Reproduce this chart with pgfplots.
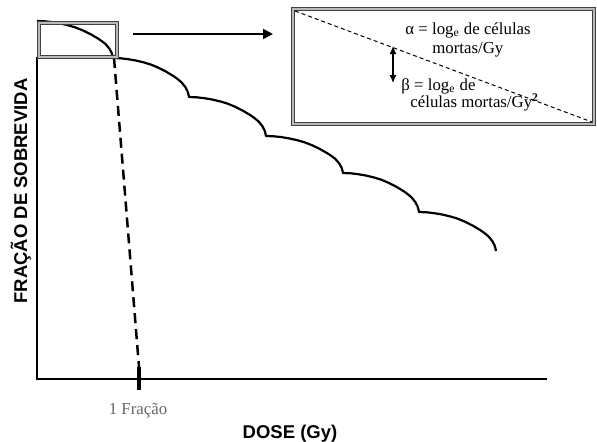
\documentclass[border=0pt]{standalone}
\usepackage{fontspec}
\setmainfont{Liberation Serif}
\setsansfont{Liberation Sans}
\usepackage{pgfplots}
\pgfplotsset{compat=1.18}
\usetikzlibrary{arrows.meta}
\begin{document}
\begin{tikzpicture}
\begin{axis}[scale only axis, width=298.5pt, height=220.5pt,
  xmin=0, xmax=597, ymin=0, ymax=441, y dir=reverse,
  axis lines=none, clip=false, xtick=\empty, ytick=\empty]
\path (0,0) rectangle (597,441);
% axes
\draw[line width=1pt] (37,57) -- (37,379) -- (547,379);
% survival curve (fractionated)
\addplot[black, line width=1.1pt, line join=round, mark=none] coordinates {
(37,21) (44.6,21.3) (52.2,22.1) (59.8,23.4) (67.4,25.1) (75,27.3) (82.6,30.3) (90.2,34.0) (97.8,38.4) (101.6,41.0) (105.4,43.9) (109.2,48.4) (111.5,52.5) (112.2,54.7) (113,58)
(120.6,58.3) (128.2,59.2) (135.8,60.5) (143.4,62.3) (151,64.6) (158.6,67.8) (166.2,71.7) (173.8,76.3) (177.6,79.1) (181.4,82.2) (185.2,86.9) (187.5,91.2) (188.2,93.5) (189,97)
(196.7,97.3) (204.4,98.2) (212.1,99.5) (219.8,101.3) (227.5,103.6) (235.2,106.8) (242.9,110.7) (250.6,115.3) (254.5,118.1) (258.3,121.2) (262.2,125.9) (264.5,130.2) (265.2,132.5) (266,136)
(273.7,136.3) (281.4,137.1) (289.1,138.4) (296.8,140.1) (304.5,142.3) (312.2,145.3) (319.9,149.0) (327.6,153.4) (331.5,156.0) (335.3,158.9) (339.2,163.4) (341.5,167.5) (342.2,169.7) (343,173)
(350.6,173.3) (358.2,174.2) (365.8,175.5) (373.4,177.3) (381,179.6) (388.6,182.8) (396.2,186.7) (403.8,191.3) (407.6,194.1) (411.4,197.2) (415.2,201.9) (417.5,206.2) (418.2,208.5) (419,212)
(426.7,212.3) (434.4,213.2) (442.1,214.5) (449.8,216.3) (457.5,218.6) (465.2,221.8) (472.9,225.7) (480.6,230.3) (484.5,233.1) (488.3,236.2) (492.2,240.9) (494.5,245.2) (495.2,247.5) (496,251)
};
% dashed single-fraction line
\addplot[black, line width=1.25pt, dash pattern=on 5pt off 3pt, mark=none] coordinates {(114,58) (139,367)};
% fraction tick
\draw[line width=2pt] (139,367) -- (139,390);
% small box
\draw[draw=black!75, double=gray!55, line width=0.5pt, double distance=1pt] (39,22.7) rectangle (117,57);
% big arrow
\draw[line width=1pt, -{Triangle[length=5pt,width=5pt]}] (133,34) -- (273,34);
% inset
\draw[draw=black!75, double=gray!55, line width=0.5pt, double distance=1pt] (293,9) rectangle (594,124);
\draw[line width=0.5pt, dash pattern=on 2pt off 1.5pt] (295,11) -- (592,122);
\draw[line width=0.6pt, {Latex[length=4pt,width=3.5pt]}-{Latex[length=4pt,width=3.5pt]}] (393,46) -- (393,83);
\begin{scope}[every node/.style={inner sep=0pt, anchor=base west, font=\fontsize{8.4}{10}\selectfont}]
\node at (405,35) {α = log\textsubscript{e} de células};
\node at (432,53) {mortas/Gy};
\node at (401,90) {β = log\textsubscript{e} de};
\node at (410,107) {células mortas/Gy\textsuperscript{\textbf{2}}};
\end{scope}
% labels
\node[inner sep=0pt, anchor=base, text=black!60, font=\fontsize{8.4}{10}\selectfont] at (138,414) {1 Fração};
\node[inner sep=0pt, anchor=base, font=\sffamily\bfseries\fontsize{9.25}{11}\selectfont] at (290,438) {DOSE (Gy)};
\node[inner sep=0pt, anchor=base, rotate=90, font=\sffamily\bfseries\fontsize{9.25}{11}\selectfont] at (27,191) {FRAÇÃO DE SOBREVIDA};
\end{axis}
\end{tikzpicture}
\end{document}
